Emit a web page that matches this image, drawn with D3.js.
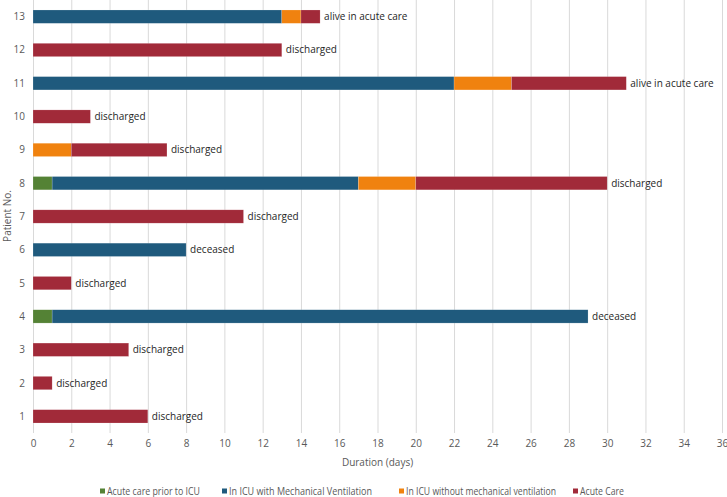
<!DOCTYPE html>
<html><head><meta charset="utf-8">
<script src="https://cdn.jsdelivr.net/npm/d3@7"></script>
<style>body{margin:0;background:#fff;} svg{display:block;}</style>
</head><body>
<script>
const patients = ["1","2","3","4","5","6","7","8","9","10","11","12","13"];
const seriesNames = ["Acute care prior to ICU","In ICU with Mechanical Ventilation","In ICU without mechanical ventilation","Acute Care"];
const preICU   = [0,0,0,1,0,0,0,1,0,0,0,0,0];
const icuMV    = [0,0,0,28,0,8,0,16,0,0,22,0,13];
const icuNoMV  = [0,0,0,0,0,0,0,3,2,0,3,0,1];
const acuteCare= [6,1,5,0,2,0,11,10,5,3,6,13,1];
const outcomes = ["discharged","discharged","discharged","deceased","discharged","deceased","discharged","discharged","discharged","discharged","alive in acute care","discharged","alive in acute care"];
const xTicks = [0,2,4,6,8,10,12,14,16,18,20,22,24,26,28,30,32,34,36];
const colors = ["#548235","#1f5a7d","#f0820f","#a12a39"];

const W=727,H=497;
const svg=d3.select("body").append("svg").attr("width",W).attr("height",H);
const x=d3.scaleLinear().domain([0,36]).range([33,722]);
const y=d3.scaleBand().domain(patients.slice().reverse()).range([0,433]).paddingInner(0.6).paddingOuter(0.3);
const narrow="Liberation Sans Narrow, Open Sans, sans-serif";

// grid
svg.append("g").selectAll("line").data(xTicks).join("line")
  .attr("x1",d=>x(d)+0.5).attr("x2",d=>x(d)+0.5).attr("y1",0).attr("y2",433)
  .attr("stroke","#d9d9d9").attr("stroke-width",1);

const table=patients.map((p,i)=>({p,vals:[preICU[i],icuMV[i],icuNoMV[i],acuteCare[i]],out:outcomes[i]}));
const stack=d3.stack().keys([0,1,2,3]).value((d,k)=>d.vals[k])(table);

svg.append("g").selectAll("g").data(stack).join("g").attr("fill",(d,i)=>colors[i])
  .selectAll("rect").data(d=>d.filter(s=>s[1]>s[0])).join("rect")
  .attr("x",d=>x(d[0])).attr("width",d=>x(d[1])-x(d[0]))
  .attr("y",d=>y(d.data.p)).attr("height",y.bandwidth())
  .attr("stroke","rgba(255,255,255,0.35)").attr("stroke-width",0.5);

// data labels
svg.append("g").selectAll("text").data(table).join("text")
  .attr("x",d=>x(d3.sum(d.vals))+4).attr("y",d=>y(d.p)+y.bandwidth()/2)
  .attr("dy","0.35em").attr("font-family","Open Sans, sans-serif").attr("font-size",10)
  .attr("fill","#262626").text(d=>d.out);

// y axis labels
svg.append("g").selectAll("text").data(patients).join("text")
  .attr("x",25).attr("y",d=>y(d)+y.bandwidth()/2).attr("dy","0.35em").attr("text-anchor","end")
  .attr("font-family",narrow).attr("font-size",10).attr("fill","#595959").text(d=>d);

// x axis
const xa=d3.axisBottom(x).tickValues(xTicks).tickSize(0).tickPadding(0);
const gx=svg.append("g").attr("transform","translate(0,440)").call(xa);
gx.select(".domain").remove();
gx.selectAll("text").attr("font-family",narrow).attr("font-size",10).attr("fill","#595959").attr("dy","0.71em");

svg.append("text").attr("x",(x(0)+x(36))/2).attr("y",466).attr("text-anchor","middle")
  .attr("font-family",narrow).attr("font-size",10).attr("fill","#595959").text("Duration (days)");

svg.append("text").attr("transform","translate(11,216) rotate(-90)").attr("text-anchor","middle")
  .attr("font-family",narrow).attr("font-size",10).attr("fill","#595959").text("Patient No.");

// legend
const legX=[100,222,399,573];
const legLen=[93,143,150,44];
const lg=svg.append("g").selectAll("g").data(seriesNames).join("g").attr("transform",(d,i)=>`translate(${legX[i]},492)`);
lg.append("rect").attr("x",0).attr("y",-3.5).attr("width",5).attr("height",5).attr("fill",(d,i)=>colors[i]);
lg.append("text").attr("x",7).attr("y",0).attr("dy","0.3em").attr("font-family",narrow)
  .attr("font-size",10).attr("fill","#595959")
  .attr("textLength",(d,i)=>legLen[i]).attr("lengthAdjust","spacingAndGlyphs").text(d=>d);
</script>
</body></html>
